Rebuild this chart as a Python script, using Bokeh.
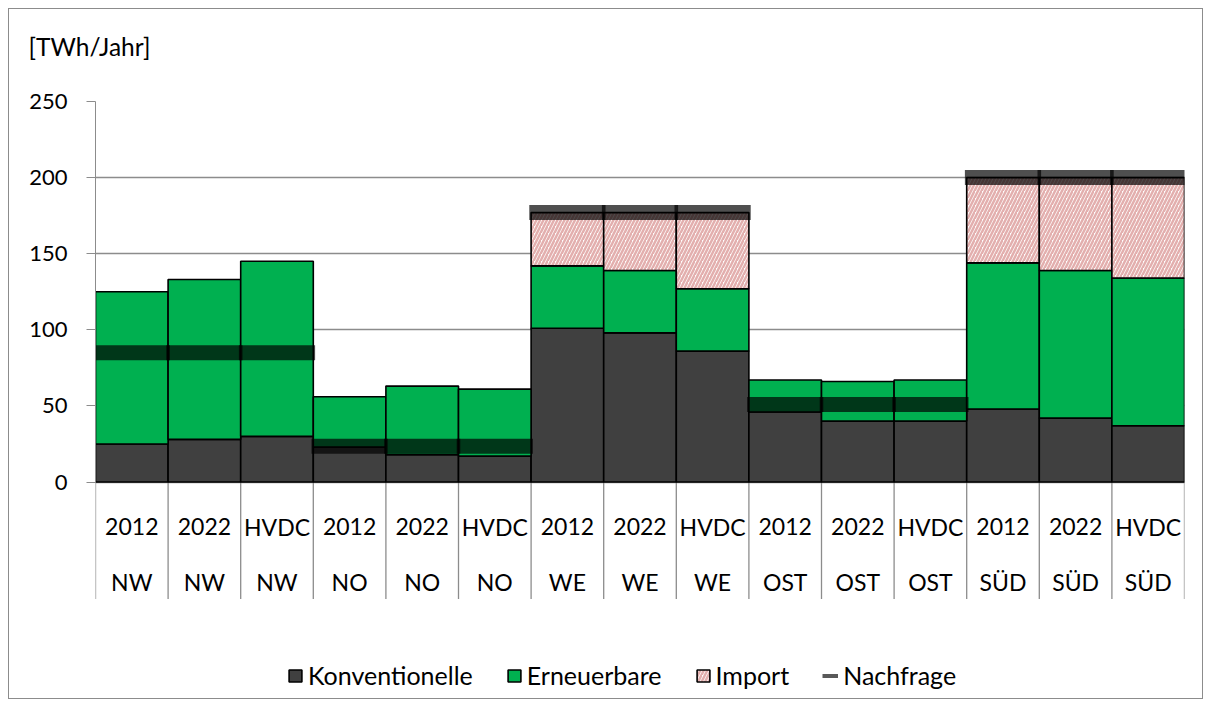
from bokeh.plotting import figure
from bokeh.models import (ColumnDataSource, Range1d, FixedTicker, Title,
                          Legend, LegendItem)
from bokeh.core.properties import value
from bokeh.embed import file_html
from bokeh.resources import INLINE

# ---- data ----
years = ["2012", "2022", "HVDC"] * 5
regions = ["NW"] * 3 + ["NO"] * 3 + ["WE"] * 3 + ["OST"] * 3 + ["SÜD"] * 3
konventionelle = [25, 28, 30, 23, 18, 17, 101, 98, 86, 46, 40, 40, 48, 42, 37]
erneuerbare = [100, 105, 115, 33, 45, 44, 41, 41, 41, 21, 26, 27, 96, 97, 97]
importe = [0, 0, 0, 0, 0, 0, 35, 38, 50, 0, 0, 0, 56, 61, 66]
nachfrage = [85, 85, 85, 23.5, 23.5, 23.5, 177, 177, 177, 51, 51, 51, 200, 200, 200]
y_ticks = [0, 50, 100, 150, 200, 250]
y_label = "[TWh/Jahr]"

FONT = "Lato"
FS = "22px"
FS_CAT = "23px"
FS_BIG = "24.5px"
FS_LEG = "25px"
GREY = "#8c8c8c"

# ---- layout constants (pixels) ----
W, H = 1195, 691
TOP, LEFT, RIGHT = 92, 86, 20
PX_PER_UNIT = 380.5 / 250          # vertical scale of the value axis
Y_MIN = 250 - (H - TOP) / PX_PER_UNIT  # frame extends down to hold the category rows
ROW1 = -44.5 / PX_PER_UNIT
ROW2 = -99.5 / PX_PER_UNIT
SEP = -117 / PX_PER_UNIT

n = len(years)
xs = [i + 0.5 for i in range(n)]
bounds = list(range(n + 1))
k_top = list(konventionelle)
e_top = [k + e for k, e in zip(konventionelle, erneuerbare)]
i_top = [t + m for t, m in zip(e_top, importe)]

src = ColumnDataSource(dict(x=xs, k0=[0] * n, k1=k_top, e1=e_top, nf=nachfrage,
                            year=years, region=regions,
                            r1=[ROW1] * n, r2=[ROW2] * n))
imp_idx = [i for i in range(n) if importe[i] > 0]
src_imp = ColumnDataSource(dict(
    x=[xs[i] for i in imp_idx],
    b=[e_top[i] for i in imp_idx],
    t=[i_top[i] for i in imp_idx],
))

p = figure(width=W, height=H,
           x_range=Range1d(0, n), y_range=Range1d(Y_MIN, 250),
           output_backend="svg", toolbar_location=None, x_axis_location=None,
           min_border_left=LEFT, min_border_top=TOP, min_border_right=RIGHT,
           min_border_bottom=0, outline_line_color=None,
           styles={"border": "1px solid #8c8c8c", "margin": "8px"})

# y axis
p.yaxis.ticker = FixedTicker(ticks=y_ticks)
p.yaxis.bounds = (0, 250)
p.yaxis.major_tick_out = 9
p.yaxis.major_tick_in = 0
p.yaxis.minor_tick_line_color = None
p.yaxis.axis_line_color = GREY
p.yaxis.major_tick_line_color = GREY
p.yaxis.major_label_text_font = FONT
p.yaxis.major_label_text_font_size = FS
p.yaxis.major_label_text_color = "black"
p.yaxis.major_label_standoff = 19
p.ygrid.grid_line_color = GREY
p.ygrid.grid_line_width = 1.3
p.xgrid.grid_line_color = None

# category separators and labels
p.segment(x0=bounds, y0=[0] * (n + 1), x1=bounds, y1=[SEP] * (n + 1),
          line_color=GREY, line_width=1.3)
p.text(x="x", y="r1", text="year", source=src, text_align="center",
       text_baseline="middle", text_font=value(FONT), text_font_size=FS_CAT,
       text_color="black")
p.text(x="x", y="r2", text="region", source=src, text_align="center",
       text_baseline="middle", text_font=value(FONT), text_font_size=FS_CAT,
       text_color="black")

# bars
rk = p.vbar(x="x", bottom="k0", top="k1", width=1.0, source=src,
            fill_color="#404040", line_color="black", line_width=1.6)
re = p.vbar(x="x", bottom="k1", top="e1", width=1.0, source=src,
            fill_color="#00B050", line_color="black", line_width=1.6)
ri = p.vbar(x="x", bottom="b", top="t", width=1.0, source=src_imp,
            fill_color="white", hatch_pattern="/", hatch_color="#E3AFAE",
            hatch_weight=2.5, hatch_scale=7,
            line_color="black", line_width=1.6)
# demand markers
p.rect(x="x", y="nf", width=1.05, height=15, height_units="screen",
       source=src, fill_color="black", fill_alpha=0.69, line_color=None)
# legend proxy for the demand marker (a single point draws nothing in the plot)
rn = p.line(x=xs[:1], y=nachfrage[:1], line_color="#595959", line_width=4)

# unit label; the empty second line lifts it within the top border area
p.add_layout(Title(text=y_label + "\n", align="left", offset=-67, standoff=20,
                   vertical_align="top",
                   text_font=FONT, text_font_size=FS_BIG, text_font_style="normal",
                   text_color="black"), "above")

legend = Legend(items=[
    LegendItem(label="Konventionelle", renderers=[rk]),
    LegendItem(label="Erneuerbare", renderers=[re]),
    LegendItem(label="Import", renderers=[ri]),
    LegendItem(label="Nachfrage", renderers=[rn]),
], location=(192, 10), orientation="horizontal", padding=0, margin=0,
    spacing=33, glyph_width=16, glyph_height=15, label_standoff=5,
    label_height=29, border_line_color=None, background_fill_alpha=0,
    label_text_font=FONT, label_text_font_size=FS_LEG, label_text_color="black")
p.add_layout(legend)

open("out.html", "w").write(file_html(p, INLINE))
